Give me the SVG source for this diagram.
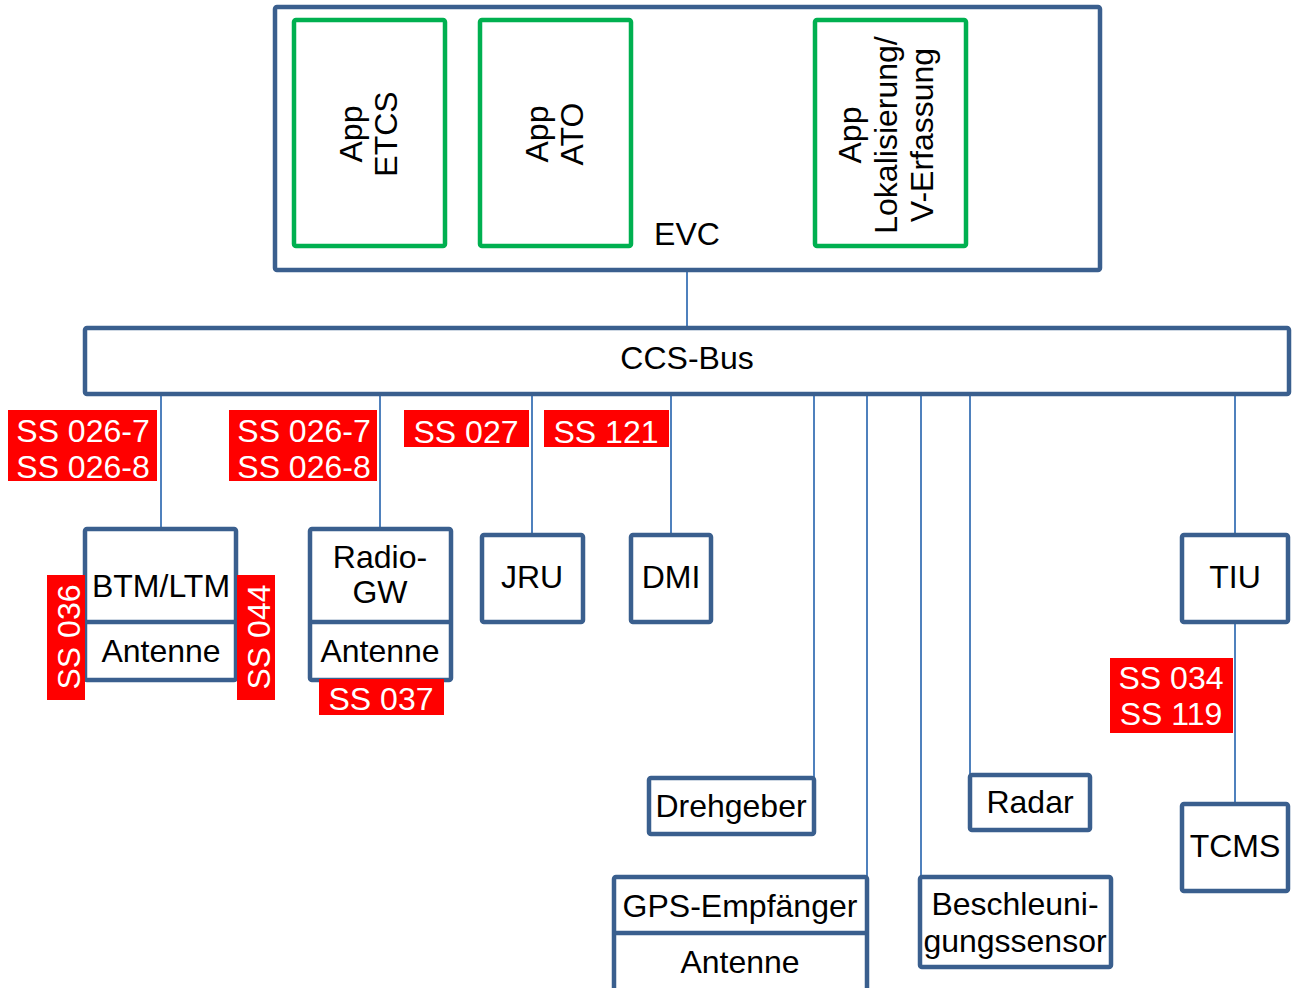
<svg xmlns="http://www.w3.org/2000/svg" width="1292" height="988" viewBox="0 0 1292 988">
<style>
.box{fill:#fff;stroke:#3A5F8E;stroke-width:4.5;stroke-linejoin:round}
.app{fill:#fff;stroke:#00B050;stroke-width:4.5;stroke-linejoin:round}
.div{stroke:#3A5F8E;stroke-width:4.5}
.con{stroke:#4F81BD;stroke-width:2;fill:none}
.lbl{fill:#FF0000}
text{font-family:"Liberation Sans",Arial,sans-serif;font-size:32px;fill:#000}
.t{text-anchor:middle}
.w{fill:#fff}
</style>
<rect width="1292" height="988" fill="#fff"/>
<g id="connectors">
<line class="con" x1="687" y1="270" x2="687" y2="328"/>
<line class="con" x1="161" y1="394" x2="161" y2="529"/>
<line class="con" x1="380" y1="394" x2="380" y2="529"/>
<line class="con" x1="532" y1="394" x2="532" y2="535"/>
<line class="con" x1="671" y1="394" x2="671" y2="535"/>
<line class="con" x1="814" y1="394" x2="814" y2="778"/>
<line class="con" x1="867" y1="394" x2="867" y2="877"/>
<line class="con" x1="921" y1="394" x2="921" y2="877"/>
<line class="con" x1="970" y1="394" x2="970" y2="775"/>
<line class="con" x1="1235" y1="394" x2="1235" y2="535"/>
<line class="con" x1="1235" y1="622" x2="1235" y2="804"/>
</g>
<g id="evc">
<rect class="box" x="275" y="7" width="825" height="263" rx="2"/>
<text class="t" x="687" y="245">EVC</text>
</g>
<g id="app-etcs">
<rect class="app" x="294" y="20" width="151" height="226" rx="2"/>
<g transform="translate(369,134) rotate(-90)"><text class="t" x="0" y="-7">App</text><text class="t" x="0" y="28">ETCS</text></g>
</g>
<g id="app-ato">
<rect class="app" x="480" y="20" width="151" height="226" rx="2"/>
<g transform="translate(555,134) rotate(-90)"><text class="t" x="0" y="-7">App</text><text class="t" x="0" y="28">ATO</text></g>
</g>
<g id="app-lok">
<rect class="app" x="815" y="20" width="151" height="226" rx="2"/>
<g transform="translate(890,135) rotate(-90)"><text class="t" x="0" y="-29">App</text><text class="t" x="0" y="7">Lokalisierung/</text><text class="t" x="0" y="43">V-Erfassung</text></g>
</g>
<g id="ccs-bus">
<rect class="box" x="85" y="328" width="1204" height="66" rx="2"/>
<text class="t" x="687" y="369">CCS-Bus</text>
</g>
<g id="btm">
<rect class="box" x="85" y="529" width="151" height="151" rx="2"/>
<line class="div" x1="85" y1="622" x2="236" y2="622"/>
<text class="t" x="161" y="597">BTM/LTM</text>
<text class="t" x="161" y="662">Antenne</text>
</g>
<g id="radio-gw">
<rect class="box" x="310" y="529" width="141" height="151" rx="2"/>
<line class="div" x1="310" y1="622" x2="451" y2="622"/>
<text class="t" x="380" y="568">Radio-</text>
<text class="t" x="380" y="603">GW</text>
<text class="t" x="380" y="662">Antenne</text>
</g>
<g id="jru">
<rect class="box" x="482" y="535" width="101" height="87" rx="2"/>
<text class="t" x="532" y="588">JRU</text>
</g>
<g id="dmi">
<rect class="box" x="631" y="535" width="80" height="87" rx="2"/>
<text class="t" x="671" y="588">DMI</text>
</g>
<g id="tiu">
<rect class="box" x="1182" y="535" width="106" height="87" rx="2"/>
<text class="t" x="1235" y="588">TIU</text>
</g>
<g id="tcms">
<rect class="box" x="1182" y="804" width="106" height="87" rx="2"/>
<text class="t" x="1235" y="857">TCMS</text>
</g>
<g id="drehgeber">
<rect class="box" x="649" y="778" width="165" height="56" rx="2"/>
<text class="t" x="731" y="817">Drehgeber</text>
</g>
<g id="radar">
<rect class="box" x="970" y="775" width="120" height="55" rx="2"/>
<text class="t" x="1030" y="813">Radar</text>
</g>
<g id="gps">
<rect class="box" x="614" y="877" width="253" height="130" rx="2"/>
<line class="div" x1="614" y1="933" x2="867" y2="933"/>
<text class="t" x="740" y="917">GPS-Empfänger</text>
<text class="t" x="740" y="973">Antenne</text>
</g>
<g id="beschleunigung">
<rect class="box" x="920" y="877" width="191" height="90" rx="2"/>
<text class="t" x="1015" y="915">Beschleuni-</text>
<text class="t" x="1015" y="952">gungssensor</text>
</g>
<g id="label-ss026-btm">
<rect class="lbl" x="8" y="410" width="149" height="71"/>
<text class="t w" x="83" y="442">SS 026-7</text>
<text class="t w" x="83" y="478">SS 026-8</text>
</g>
<g id="label-ss026-radio">
<rect class="lbl" x="229" y="410" width="148" height="71"/>
<text class="t w" x="304" y="442">SS 026-7</text>
<text class="t w" x="304" y="478">SS 026-8</text>
</g>
<g id="label-ss027">
<rect class="lbl" x="404" y="410" width="125" height="37"/>
<text class="t w" x="466" y="443">SS 027</text>
</g>
<g id="label-ss121">
<rect class="lbl" x="544" y="410" width="125" height="37"/>
<text class="t w" x="606" y="443">SS 121</text>
</g>
<g id="label-ss036">
<rect class="lbl" x="47" y="575" width="38" height="125"/>
<g transform="translate(66,637) rotate(-90)"><text class="t w" x="0" y="14">SS 036</text></g>
</g>
<g id="label-ss044">
<rect class="lbl" x="237" y="575" width="38" height="125"/>
<g transform="translate(256,637) rotate(-90)"><text class="t w" x="0" y="14">SS 044</text></g>
</g>
<g id="label-ss037">
<rect class="lbl" x="319" y="679" width="125" height="36"/>
<text class="t w" x="381" y="710">SS 037</text>
</g>
<g id="label-ss034">
<rect class="lbl" x="1110" y="658" width="123" height="75"/>
<text class="t w" x="1171" y="689">SS 034</text>
<text class="t w" x="1171" y="725">SS 119</text>
</g>
</svg>
